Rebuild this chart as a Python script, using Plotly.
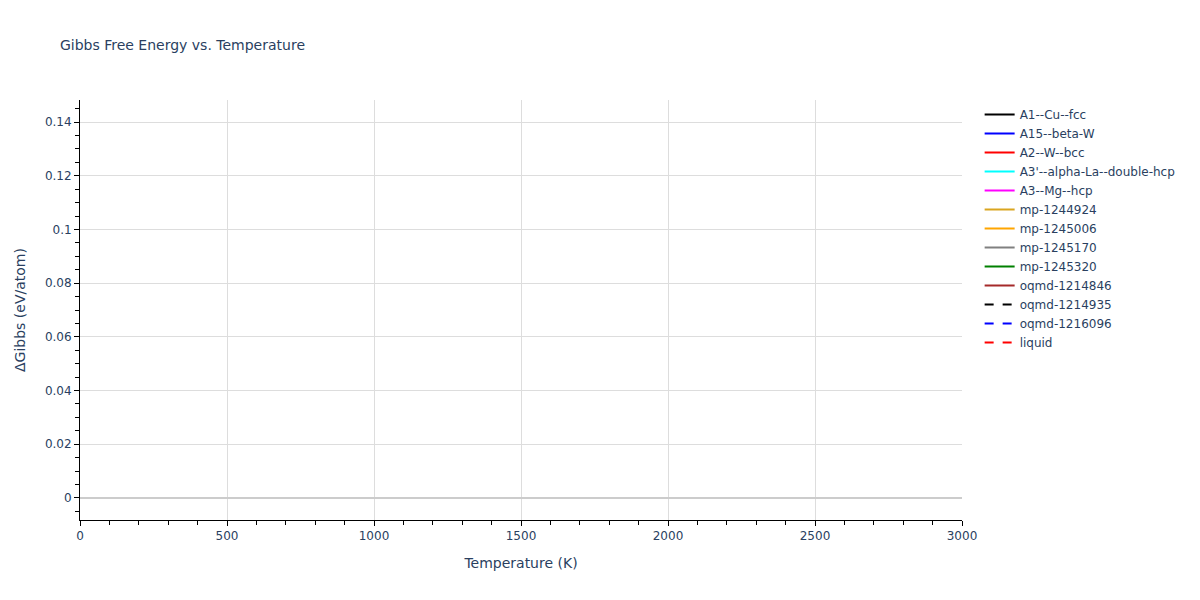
import plotly.graph_objects as go

# phases shown in the legend; no curve falls inside the visible window
phases = ["A1--Cu--fcc", "A15--beta-W", "A2--W--bcc", "A3'--alpha-La--double-hcp",
          "A3--Mg--hcp", "mp-1244924", "mp-1245006", "mp-1245170", "mp-1245320",
          "oqmd-1214846", "oqmd-1214935", "oqmd-1216096", "liquid"]
colors = ["black", "blue", "red", "cyan", "magenta", "goldenrod", "orange", "grey",
          "green", "brown", "black", "blue", "red"]
dashes = ["solid"] * 10 + ["dash"] * 3

temperature = [None]
delta_gibbs = [None]

fig = go.Figure()
for name, c, d in zip(phases, colors, dashes):
    fig.add_trace(go.Scatter(x=temperature, y=delta_gibbs, mode="lines", name=name,
                             line=dict(color=c, dash=d), showlegend=True))

fig.update_layout(
    template="plotly_white",
    font=dict(family="DejaVu Sans", size=12, color="#2a3f5f"),
    title=dict(text="Gibbs Free Energy vs. Temperature", x=0.0433, y=0.938,
               yanchor="middle", font=dict(size=14)),
    width=1200, height=600,
    showlegend=True,
    margin=dict(l=72, r=246, t=92, b=88),
    legend=dict(x=1.02, y=1, font=dict(size=12)),
    xaxis=dict(title=dict(text="Temperature (K)", font=dict(size=14)), range=[0, 3000], dtick=500,
               showline=True, linecolor="black", ticks="outside", tickcolor="black",
               minor=dict(ticks="outside", dtick=100, tickcolor="black", ticklen=4),
               showgrid=True, gridcolor="#dddddd", zeroline=False),
    yaxis=dict(title=dict(text="ΔGibbs (eV/atom)", font=dict(size=14)), range=[-0.0082, 0.1482], dtick=0.02,
               showline=True, linecolor="black", ticks="outside", tickcolor="black",
               minor=dict(ticks="outside", dtick=0.005, tickcolor="black", ticklen=4),
               showgrid=True, gridcolor="#dddddd", zeroline=True, zerolinecolor="#cccccc",
               zerolinewidth=2),
)

fig.write_html("out.html")
